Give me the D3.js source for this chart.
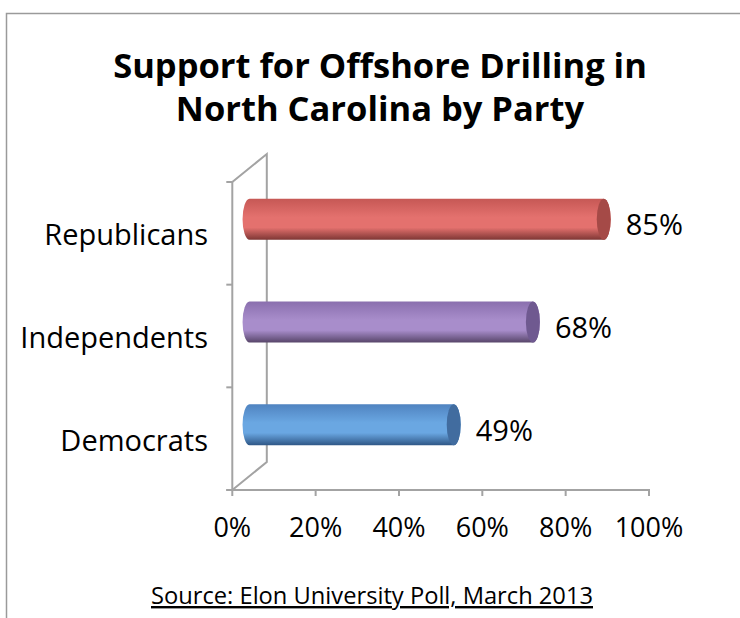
<!DOCTYPE html>
<html><head><meta charset="utf-8">
<script src="https://cdn.jsdelivr.net/npm/d3@7"></script>
<style>body{margin:0;background:#fff}svg{display:block}</style>
</head><body>
<script>
const categories = ["Republicans", "Independents", "Democrats"];
const values = [85, 68, 49];
const valueLabels = ["85%", "68%", "49%"];
const tickValues = [0, 20, 40, 60, 80, 100];
const tickLabels = ["0%", "20%", "40%", "60%", "80%", "100%"];
const titleLines = ["Support for Offshore Drilling in", "North Carolina by Party"];
const sourceText = "Source: Elon University Poll, March 2013";
const colors = [
  {top:"#c65855", mid:"#e4716e", bot:"#7d3634", cap:"#a54a47"},
  {top:"#8a6fae", mid:"#a88dcb", bot:"#574569", cap:"#6f5990"},
  {top:"#4f83c0", mid:"#6aa7e2", bot:"#2f5786", cap:"#416c9f"}
];

const W = 740, H = 618;
const font = "'Open Sans', sans-serif";
const svg = d3.select("body").append("svg").attr("width", W).attr("height", H);
const defs = svg.append("defs");

// frame
svg.append("path").attr("d", `M6.5,${H} L6.5,13.5 L${W},13.5`)
  .attr("fill","none").attr("stroke","#9a9a9a").attr("stroke-width",1.5);

// title
svg.append("text").attr("x",380).attr("y",78).attr("text-anchor","middle")
  .attr("font-family",font).attr("font-weight","bold").attr("font-size",34.5).attr("fill","#000")
  .selectAll("tspan").data(titleLines).join("tspan")
  .attr("x",380).attr("dy",(d,i)=>i===0?0:43).text(d=>d);

const x = d3.scaleLinear().domain([0,100]).range([232.3,649]);
const y = d3.scaleBand().domain(categories).range([182,490]);
const dx = 34.5, dy = -28;
const axisColor = "#a3a3a3";

// 3D wall lines
const g = svg.append("g");
const [y0, y1] = y.range();
g.append("path").attr("d",
  `M${x(0)},${y0} L${x(0)+dx},${y0+dy} L${x(0)+dx},${y1+dy} L${x(0)},${y1}`)
  .attr("fill","none").attr("stroke",axisColor).attr("stroke-width",2);

// y axis (front)
const yTicks = categories.map(c=>y(c)).concat([y1]);
g.append("line").attr("x1",x(0)).attr("x2",x(0)).attr("y1",y0).attr("y2",y1)
  .attr("stroke",axisColor).attr("stroke-width",2);
g.selectAll(".yt").data(yTicks).join("line")
  .attr("x1",x(0)-6).attr("x2",x(0)).attr("y1",d=>d).attr("y2",d=>d)
  .attr("stroke",axisColor).attr("stroke-width",2);

// x axis
g.append("line").attr("x1",x(0)-6).attr("x2",x(100)+1).attr("y1",y1).attr("y2",y1)
  .attr("stroke",axisColor).attr("stroke-width",2);
g.selectAll(".xt").data(tickValues).join("line")
  .attr("x1",d=>x(d)).attr("x2",d=>x(d)).attr("y1",y1).attr("y2",y1+6)
  .attr("stroke",axisColor).attr("stroke-width",2);
g.selectAll(".xl").data(tickValues).join("text")
  .attr("x",d=>x(d)).attr("y",y1+47).attr("text-anchor","middle")
  .attr("font-family",font).attr("font-size",27).attr("fill","#000")
  .text((d,i)=>tickLabels[i]);

// category labels
g.selectAll(".cl").data(categories).join("text")
  .attr("x",208).attr("y",d=>y(d)+y.bandwidth()/2+12).attr("text-anchor","end")
  .attr("font-family",font).attr("font-size",29).attr("fill","#000")
  .text(d=>d);

// bars (cylinders)
const bh = y.bandwidth()*0.4;
const ry = bh/2, rx = 7;
categories.forEach((c,i)=>{
  const gid = "grad"+i;
  const gr = defs.append("linearGradient").attr("id",gid).attr("x1",0).attr("y1",0).attr("x2",0).attr("y2",1);
  gr.append("stop").attr("offset","0%").attr("stop-color",colors[i].top);
  gr.append("stop").attr("offset","45%").attr("stop-color",colors[i].mid);
  gr.append("stop").attr("offset","70%").attr("stop-color",colors[i].mid);
  gr.append("stop").attr("offset","100%").attr("stop-color",colors[i].bot);
  const cy = y(c)+y.bandwidth()/2 + dy/2;
  const cx0 = x(0)+dx/2, cx1 = x(values[i])+dx/2;
  const top = cy-ry, bot = cy+ry;
  g.append("path").attr("d",
    `M${cx0},${top} L${cx1},${top} A${rx},${ry} 0 0 1 ${cx1},${bot} L${cx0},${bot} A${rx},${ry} 0 0 1 ${cx0},${top} Z`)
    .attr("fill",`url(#${gid})`);
  g.append("ellipse").attr("cx",cx1).attr("cy",cy).attr("rx",rx).attr("ry",ry)
    .attr("fill",colors[i].cap);
  g.append("text").attr("x",cx1+rx+15).attr("y",cy+16)
    .attr("font-family",font).attr("font-size",29).attr("fill","#000")
    .text(valueLabels[i]);
});

// source
svg.append("text").attr("x",372).attr("y",604).attr("text-anchor","middle")
  .attr("font-family",font).attr("font-size",24).attr("fill","#000")
  .attr("text-decoration","underline")
  .attr("textLength",442).attr("lengthAdjust","spacingAndGlyphs")
  .text(sourceText);
</script>
</body></html>
